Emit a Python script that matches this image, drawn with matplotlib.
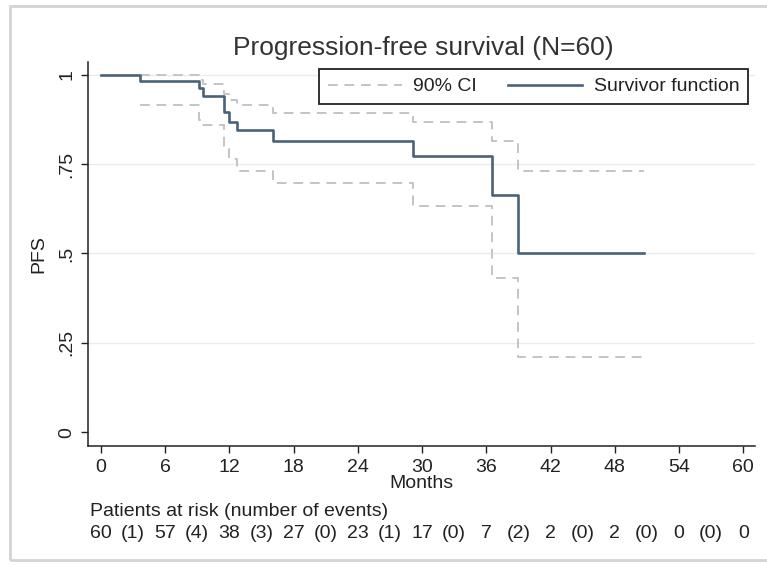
import matplotlib
matplotlib.use('Agg')
import matplotlib.pyplot as plt
import matplotlib.transforms as mtrans
from matplotlib.patches import Rectangle

plt.rcParams['font.family'] = ['Liberation Sans', 'DejaVu Sans']

# ---- Kaplan-Meier estimate
km_time = [0, 3.65, 9.2, 9.5, 11.5, 12.0, 12.7, 16.1, 29.2, 36.5, 39.0, 50.7]
km_surv = [1.0, 0.983, 0.963, 0.942, 0.896, 0.868, 0.846, 0.815, 0.772, 0.664, 0.5, 0.5]

# ---- 90% confidence band
ci_time = [3.65, 9.2, 9.5, 11.5, 12.0, 12.7, 16.1, 29.2, 36.5, 39.0, 50.7]
ci_upper = [0.999, 0.985, 0.975, 0.946, 0.93, 0.916, 0.893, 0.868, 0.815, 0.731, 0.731]
ci_lower = [0.916, 0.875, 0.86, 0.80, 0.765, 0.731, 0.698, 0.633, 0.43, 0.21, 0.21]

# ---- Risk table
risk_time = [0, 6, 12, 18, 24, 30, 36, 42, 48, 54, 60]
at_risk = [60, 57, 38, 27, 23, 17, 7, 2, 2, 0, 0]
events = [1, 4, 3, 0, 1, 0, 2, 0, 0, 0]

y_ticks = [0, 0.25, 0.5, 0.75, 1]
y_ticklabels = ['0', '.25', '.5', '.75', '1']

FS = 14
W, H = 767, 565
fig = plt.figure(figsize=(W / 100, H / 100), dpi=100)
ax = fig.add_axes([88 / W, 1 - 446 / H, 667 / W, 384 / H])

# Plot
ax.step(ci_time, ci_upper, where='post', color='#c4c4c4', lw=1.4,
        dashes=(5, 3.5), label='90% CI')
ax.step(ci_time, ci_lower, where='post', color='#c4c4c4', lw=1.4,
        dashes=(5, 3.5))
ax.step(km_time, km_surv, where='post', color='#4a6279', lw=1.9,
        label='Survivor function')

# Plot Configuration
ax.set_xlim(-1.2, 61.1)
ax.set_ylim(-0.039, 1.036)
ax.set_xticks(risk_time)
ax.set_yticks(y_ticks)
ax.set_yticklabels(y_ticklabels, rotation=90, va='center')
for y in y_ticks[1:]:
    ax.axhline(y, color='#e6ecef', lw=1, zorder=0)
for side in ['top', 'right']:
    ax.spines[side].set_visible(False)
for side in ['left', 'bottom']:
    ax.spines[side].set_color('#222222')
    ax.spines[side].set_linewidth(1.1)
ax.tick_params(length=5, width=1, color='#222222', labelsize=FS,
               labelcolor='#222222', pad=4)
ax.set_ylabel('PFS', fontsize=FS, color='#222222', labelpad=8)

leg = ax.legend(ncol=2, loc='upper right', bbox_to_anchor=(748 / W, 1 - 69 / H),
                bbox_transform=fig.transFigure, fontsize=FS, frameon=True,
                fancybox=False, framealpha=1, edgecolor='#222222',
                handlelength=3.8, handletextpad=0.6, columnspacing=1.6,
                borderpad=0.45, borderaxespad=0)
leg.get_frame().set_linewidth(1.3)
for t in leg.get_texts():
    t.set_color('#222222')

fig.text(423 / W, 1 - 55 / H, 'Progression-free survival (N=60)', fontsize=19,
         ha='center', va='baseline', color='#333333')
fig.text(421 / W, 1 - 484 / H, 'Months', fontsize=FS, ha='center',
         va='center', color='#222222')
fig.text(90 / W, 1 - 512 / H, 'Patients at risk (number of events)',
         fontsize=FS, ha='left', va='center', color='#222222')

# numbers at risk under the ticks, events in between
trans = mtrans.blended_transform_factory(ax.transData, fig.transFigure)
for t, n in zip(risk_time, at_risk):
    fig.text(t, 1 - 534 / H, str(n), transform=trans, fontsize=FS,
             ha='center', va='center', color='#222222')
for t, e in zip(risk_time[:-1], events):
    fig.text(t + 3, 1 - 534 / H, '(%d)' % e, transform=trans, fontsize=FS,
             ha='center', va='center', color='#222222')

# outer graph frame
fig.patches.append(Rectangle((10 / W, 1 - 560 / H), 1.2, 554 / H,
                             transform=fig.transFigure, fill=False,
                             edgecolor='#d4d4d4', lw=2))

plt.savefig('out.png', dpi=100)
